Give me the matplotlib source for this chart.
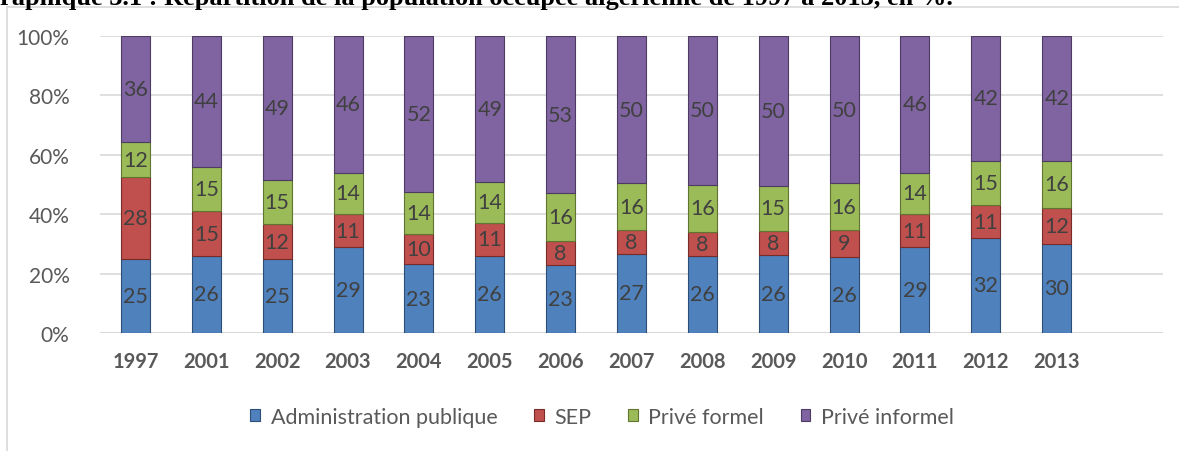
import matplotlib.pyplot as plt
import numpy as np

years = ['1997', '2001', '2002', '2003', '2004', '2005', '2006',
         '2007', '2008', '2009', '2010', '2011', '2012', '2013']
admin = [25, 26, 25, 29, 23, 26, 23, 27, 26, 26, 26, 29, 32, 30]
sep = [28, 15, 12, 11, 10, 11, 8, 8, 8, 8, 9, 11, 11, 12]
prive_formel = [12, 15, 15, 14, 14, 14, 16, 16, 16, 15, 16, 14, 15, 16]
prive_informel = [36, 44, 49, 46, 52, 49, 53, 50, 50, 50, 50, 46, 42, 42]

series = [('Administration publique', admin, '#4F81BD', '#2C4D75'),
          ('SEP', sep, '#C0504D', '#772C2A'),
          ('Privé formel', prive_formel, '#9BBB59', '#5F7530'),
          ('Privé informel', prive_informel, '#8064A2', '#4D3B62')]

plt.rcParams['font.family'] = ['Lato', 'DejaVu Sans']

fig = plt.figure(figsize=(11.79, 4.52), dpi=100)
ax = fig.add_axes([100 / 1179, 1 - 334 / 452, 1063 / 1179, 297 / 452])

# chart frame (left + top border of the Excel chart object)
fig.add_artist(plt.Line2D([7 / 1179, 7 / 1179], [0, 1 - 8 / 452], color='#d9d9d9', lw=1.2))
fig.add_artist(plt.Line2D([7 / 1179, 1], [1 - 8 / 452, 1 - 8 / 452], color='#d9d9d9', lw=1.2))

fig.text(0.0, 1 - 5 / 452, 'raphique 3.1 : Répartition de la population occupée algérienne de 1997 à 2013, en %.',
         family='Liberation Serif', weight='bold', fontsize=19, va='baseline', ha='left', color='black')

x = np.arange(len(years))
totals = np.sum([s[1] for s in series], axis=0)
bottom = np.zeros(len(years))
handles = []
for name, vals, col, edge in series:
    pct = np.array(vals) / totals * 100
    b = ax.bar(x, pct, 0.41, bottom=bottom, color=col, edgecolor=edge, linewidth=0.8, label=name, zorder=3)
    handles.append(b)
    for xi, bi, pi, v in zip(x, bottom, pct, vals):
        ax.text(xi, bi + pi / 2, str(v), ha='center', va='center', fontsize=15.5, color='#404040', zorder=4)
    bottom = bottom + pct

ax.set_xlim(-0.5, 14.5)
ax.set_ylim(0, 100)
ax.set_yticks(np.arange(0, 101, 20))
ax.set_yticklabels([f'{v}%' for v in range(0, 101, 20)], fontsize=15, color='#595959')
ax.set_xticks(x)
ax.set_xticklabels(years, fontsize=14.5, fontweight='bold', color='#595959')
ax.tick_params(axis='both', length=0)
ax.tick_params(axis='x', pad=13)
ax.tick_params(axis='y', pad=22)
ax.yaxis.grid(True, color='#d9d9d9', lw=1.2, zorder=0)
for sp in ax.spines.values():
    sp.set_visible(False)
ax.axhline(0, color='#d9d9d9', lw=1.5, zorder=2)

fig.legend(handles=handles, loc='center', bbox_to_anchor=(602 / 1179, 1 - 418 / 452), ncol=4,
           frameon=False, fontsize=15.5, labelcolor='#595959', handlelength=0.45, handleheight=0.5,
           handletextpad=0.5, columnspacing=1.7)

fig.savefig('out.png', dpi=100)
